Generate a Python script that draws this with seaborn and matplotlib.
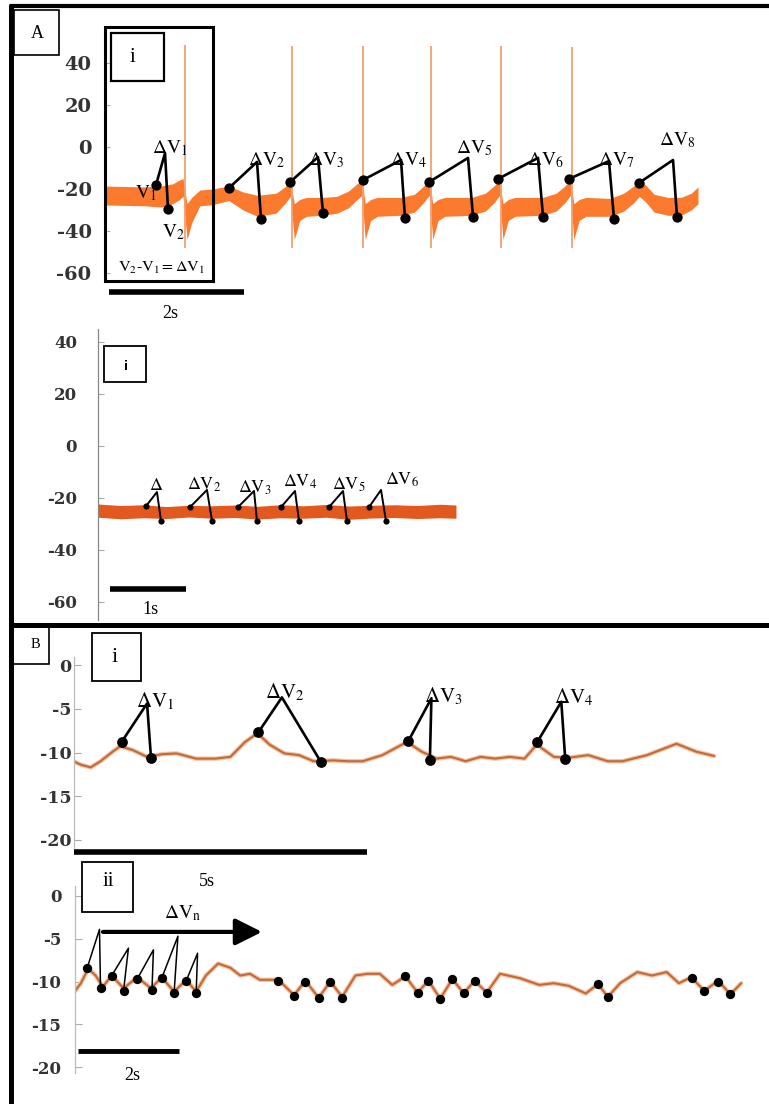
import matplotlib
matplotlib.use("Agg")
import matplotlib.pyplot as plt
import seaborn as sns
from matplotlib.patches import Rectangle
from matplotlib.lines import Line2D

# ------------------------------------------------------------------ data
# Panel A(i): noisy membrane-potential band (envelope), time in s, mV
a1_t  = [0.00, 0.30, 0.60, 0.85, 1.02, 1.12, 1.17,
         1.23, 1.30, 1.42, 1.60, 1.85, 2.06, 2.27, 2.55, 2.68, 2.76,
         2.82, 2.90, 3.00, 3.24, 3.45, 3.62, 3.75, 3.82,
         3.87, 3.95, 4.05, 4.40, 4.60, 4.72, 4.82,
         4.87, 4.95, 5.05, 5.45, 5.65, 5.78, 5.86,
         5.91, 5.99, 6.09, 6.50, 6.70, 6.83, 6.91,
         6.96, 7.04, 7.14, 7.50, 7.70, 7.85, 7.93, 8.02, 8.15, 8.35, 8.55, 8.70, 8.80]
a1_up = [-18.6, -18.8, -19.0, -18.6, -17.5, -15.7, -15.0,
         -27.0, -24.0, -20.5, -20.0, -18.6, -21.4, -23.0, -22.0, -19.0, -16.2,
         -27.0, -25.0, -24.0, -24.0, -23.5, -21.0, -17.5, -15.7,
         -27.0, -25.0, -24.0, -24.0, -22.5, -19.0, -16.0,
         -27.0, -25.0, -24.0, -24.0, -22.0, -18.5, -15.5,
         -27.0, -25.0, -24.0, -24.0, -22.0, -18.5, -15.5,
         -27.0, -25.0, -24.0, -24.5, -22.0, -18.5, -16.0, -18.0, -22.5, -24.0, -24.0, -22.0, -19.0]
a1_lo = [-27.6, -27.8, -28.0, -28.6, -27.0, -25.0, -23.5,
         -44.0, -36.0, -28.0, -27.5, -25.5, -30.0, -33.0, -31.5, -27.0, -23.5,
         -44.0, -35.0, -33.0, -32.5, -31.5, -29.0, -25.0, -23.0,
         -44.0, -35.0, -33.0, -32.5, -31.0, -27.0, -23.0,
         -44.0, -35.0, -33.0, -32.5, -30.5, -26.5, -23.0,
         -44.0, -35.0, -33.0, -32.5, -30.5, -26.5, -23.0,
         -44.0, -35.0, -33.0, -33.0, -30.5, -26.5, -23.5, -26.0, -31.0, -32.5, -32.5, -30.0, -27.0]
a1_spike_t  = [1.20, 2.79, 3.84, 4.84, 5.88, 6.93]
a1_spike_hi = [48.6, 48.0, 48.0, 48.0, 48.0, 47.5]
a1_spike_lo = [-48.0, -48.0, -48.0, -48.0, -48.0, -48.0]
a1_v1_t  = [0.770, 1.852, 2.756, 3.837, 4.815, 5.837, 6.889, 7.926]
a1_v1_v  = [-18.1, -19.5, -16.7, -15.7, -16.7, -15.2, -15.2, -17.1]
a1_ap_t  = [0.904, 2.267, 3.170, 4.400, 5.393, 6.430, 7.481, 8.430]
a1_ap_v  = [-2.9, -7.1, -4.8, -6.2, -5.2, -5.2, -6.7, -6.2]
a1_v2_t  = [0.948, 2.326, 3.244, 4.459, 5.467, 6.504, 7.556, 8.489]
a1_v2_v  = [-29.5, -34.3, -31.4, -33.8, -33.3, -33.3, -34.3, -33.3]
a1_yticks = [40, 20, 0, -20, -40, -60]

# Panel A (second): flat noisy band
a2_t  = [0.0, 0.3, 0.6, 0.9, 1.2, 1.5, 1.8, 2.1, 2.4, 2.7, 3.0, 3.3, 3.6, 3.9, 4.2, 4.5, 4.71]
a2_up = [-22.3, -22.9, -22.6, -23.3, -22.8, -23.0, -22.7, -23.2, -22.6, -23.0, -22.5, -23.1, -22.8, -22.6, -22.9, -22.4, -22.7]
a2_lo = [-27.4, -28.0, -27.6, -27.9, -27.3, -27.8, -27.5, -28.1, -27.6, -27.8, -27.4, -28.2, -27.7, -27.5, -27.9, -27.6, -27.8]
a2_v1_t = [0.632, 1.211, 1.842, 2.408, 3.039, 3.566]
a2_v1_v = [-23.1, -23.5, -23.5, -23.5, -23.5, -23.5]
a2_ap_t = [0.776, 1.434, 2.053, 2.592, 3.224, 3.724]
a2_ap_v = [-17.7, -16.9, -17.3, -17.3, -17.3, -16.9]
a2_v2_t = [0.829, 1.500, 2.092, 2.645, 3.276, 3.789]
a2_v2_v = [-28.8, -28.8, -28.8, -28.8, -28.8, -28.8]
a2_yticks = [40, 20, 0, -20, -40, -60]

# Panel B(i): smooth trace
b1_t = [0.000, 0.125, 0.292, 0.459, 0.667, 0.792, 1.001, 1.251, 1.501, 1.751, 2.085, 2.418,
        2.668, 2.918, 3.127, 3.335, 3.585, 3.835, 4.085, 4.419, 4.668, 4.918, 5.253, 5.670,
        5.920, 6.170, 6.420, 6.670, 6.920, 7.170, 7.420, 7.670, 7.879, 8.170, 8.420, 8.753,
        9.087, 9.337, 9.755, 10.255, 10.588, 10.896]
b1_v = [-11.0, -11.4, -11.7, -11.0, -9.9, -9.3, -9.7, -10.5, -10.2, -10.1, -10.7, -10.7,
        -10.5, -8.8, -7.8, -9.1, -10.1, -10.3, -11.0, -10.9, -11.0, -11.0, -10.3, -8.8,
        -9.9, -10.7, -10.5, -11.0, -10.5, -10.7, -10.5, -10.7, -9.1, -10.5, -10.6, -10.3,
        -11.0, -11.0, -10.3, -9.0, -9.9, -10.4]
b1_v1_t = [0.818, 3.143, 5.694, 7.888]
b1_v1_v = [-8.8, -7.7, -8.7, -8.8]
b1_ap_t = [1.251, 3.544, 6.087, 8.296]
b1_ap_v = [-4.4, -3.7, -3.8, -4.2]
b1_v2_t = [1.318, 4.209, 6.061, 8.362]
b1_v2_v = [-10.6, -11.1, -10.8, -10.7]
b_yticks = [0, -5, -10, -15, -20]

# Panel B(ii): smooth trace with many events
b2_t = [0.000, 0.126, 0.272, 0.417, 0.563, 0.738, 0.971, 1.243, 1.514, 1.728, 1.971, 2.213,
        2.408, 2.602, 2.844, 3.087, 3.281, 3.475, 3.669, 4.038, 4.349, 4.572, 4.834, 5.067,
        5.300, 5.562, 5.805, 6.047, 6.291, 6.553, 6.795, 7.008, 7.242, 7.485, 7.707, 7.921,
        8.164, 8.426, 8.814, 9.202, 9.493, 9.784, 10.125, 10.366, 10.561, 10.804, 11.145,
        11.436, 11.727, 11.968, 12.212, 12.473, 12.745, 12.988, 13.202]
b2_v = [-11.2, -10.2, -8.5, -9.3, -10.6, -9.3, -10.8, -9.5, -10.8, -9.5, -11.2, -9.8,
        -11.2, -9.3, -7.9, -8.4, -9.3, -9.1, -9.8, -9.8, -11.6, -9.9, -11.9, -10.0,
        -11.8, -9.3, -9.1, -9.1, -10.4, -9.4, -11.3, -9.9, -12.0, -9.7, -11.4, -9.9,
        -11.3, -9.1, -9.6, -10.4, -10.2, -10.5, -11.4, -10.3, -11.8, -10.2, -8.9,
        -9.3, -8.9, -10.2, -9.5, -11.1, -9.9, -11.5, -10.2]
b2_v1_t = [0.252, 0.738, 1.243, 1.728, 2.213]
b2_v1_v = [-8.4, -9.3, -9.7, -9.6, -9.9]
b2_ap_t = [0.495, 1.068, 1.563, 2.048, 2.437]
b2_ap_v = [-3.9, -6.1, -6.3, -4.7, -6.7]
b2_v2_t = [0.515, 0.971, 1.534, 1.971, 2.408]
b2_v2_v = [-10.8, -11.1, -11.0, -11.4, -11.4]
b2_dot_t = [4.038, 4.349, 4.572, 4.834, 5.067, 5.300, 6.553, 6.795, 7.008, 7.242, 7.485,
            7.707, 7.921, 8.164, 10.366, 10.561, 12.231, 12.473, 12.745, 12.988]
b2_dot_v = [-9.9, -11.7, -10.0, -11.9, -10.1, -11.9, -9.4, -11.3, -9.9, -12.0, -9.7,
            -11.4, -9.9, -11.3, -10.3, -11.8, -9.6, -11.1, -10.0, -11.5]
b2_arrow_t = [0.564, 3.713]
b2_arrow_v = -4.2

# ------------------------------------------------------------------ style
sns.set_theme(style="white")
plt.rcParams["font.family"] = ["Liberation Serif", "DejaVu Serif"]
plt.rcParams["mathtext.fontset"] = "stix"

W, H = 769, 1104
fig = plt.figure(figsize=(W / 100, H / 100), dpi=100)
fig.patch.set_facecolor("white")


def add_ax(l, t, r, b):
    return fig.add_axes([l / W, 1 - b / H, (r - l) / W, (b - t) / H])


def ftext(x, y, s, **kw):
    kw.setdefault("color", "black")
    fig.text(x / W, 1 - y / H, s, **kw)


def frect(l, t, r, b, lw):
    fig.add_artist(Rectangle((l / W, 1 - b / H), (r - l) / W, (b - t) / H,
                             transform=fig.transFigure, fill=False, lw=lw,
                             ec="black", zorder=30))


def fline(xs, ys, lw):
    fig.add_artist(Line2D([x / W for x in xs], [1 - y / H for y in ys],
                          transform=fig.transFigure, color="black", lw=lw,
                          solid_capstyle="butt", zorder=30))


def style_ax(ax, xlim, ylim, yticks, fs, pad, spine=None, tlen=4):
    ax.set_xlim(*xlim)
    ax.set_ylim(*ylim)
    ax.set_facecolor("none")
    for s in ax.spines.values():
        s.set_visible(False)
    if spine:
        ax.spines["left"].set_visible(True)
        ax.spines["left"].set_color(spine)
        ax.spines["left"].set_linewidth(0.9)
    ax.set_xticks([])
    ax.set_yticks(yticks)
    ax.set_yticklabels([str(v) for v in yticks], fontsize=fs, fontweight="bold",
                       color="#333333", family="DejaVu Serif")
    ax.tick_params(axis="y", direction="in", length=tlen, width=0.8,
                   color="#aaaaaa", pad=pad, left=True)
    ax.set_xlabel("")
    ax.set_ylabel("")


def draw_events(ax, v1t, v1v, apt, apv, v2t, v2v, lw, s):
    for i in range(len(v1t)):
        ax.plot([v1t[i], apt[i], v2t[i]], [v1v[i], apv[i], v2v[i]],
                color="black", lw=lw, zorder=4, clip_on=False)
    sns.scatterplot(x=list(v1t) + list(v2t), y=list(v1v) + list(v2v), ax=ax,
                    color="black", s=s, linewidth=0, zorder=5, legend=False,
                    clip_on=False)


# ---------------- Panel A(i)
ax1 = add_ax(104, 30, 704, 285)
ax1.fill_between(a1_t, a1_lo, a1_up, color="#fb7a2e", lw=0, zorder=1)
ax1.vlines(a1_spike_t, a1_spike_lo, a1_spike_hi, color="#f2a073", lw=1.3, zorder=2)
draw_events(ax1, a1_v1_t, a1_v1_v, a1_ap_t, a1_ap_v, a1_v2_t, a1_v2_v, 1.9, 55)
style_ax(ax1, (0, 600 / 67.5), ((147 - 285) / 2.1, (147 - 30) / 2.1), a1_yticks, 14, 9)
ax1.plot([0.074, 2.074], [-69, -69], color="black", lw=4, clip_on=False,
         solid_capstyle="butt")

# ---------------- Panel A (second)
ax2 = add_ax(98, 329, 700, 620)
ax2.fill_between(a2_t, a2_lo, a2_up, color="#e2581e", lw=0, zorder=1)
draw_events(ax2, a2_v1_t, a2_v1_v, a2_ap_t, a2_ap_v, a2_v2_t, a2_v2_v, 1.4, 20)
style_ax(ax2, (0, 602 / 76), ((446 - 620) / 2.6, (446 - 329) / 2.6), a2_yticks, 12, 15,
         spine="#888888")
ax2.plot([0.158, 1.158], [-55, -55], color="black", lw=4, clip_on=False,
         solid_capstyle="butt")

# ---------------- Panel B(i)
ax3 = add_ax(73.5, 657, 720, 848)
sns.lineplot(x=b1_t, y=b1_v, ax=ax3, color="#f1c3a3", lw=3.2, zorder=1)
sns.lineplot(x=b1_t, y=b1_v, ax=ax3, color="#c4693a", lw=1.5, zorder=2)
draw_events(ax3, b1_v1_t, b1_v1_v, b1_ap_t, b1_ap_v, b1_v2_t, b1_v2_v, 1.9, 60)
style_ax(ax3, (0, 646.5 / 58.8), ((665 - 848) / 8.75, (665 - 657) / 8.75), b_yticks, 12.5,
         1.5, spine="#bbbbbb", tlen=5)
ax3.plot([0, 5], [-21.4, -21.4], color="black", lw=4, clip_on=False,
         solid_capstyle="butt")

# ---------------- Panel B(ii)
ax4 = add_ax(74.5, 886, 769, 1073)
sns.lineplot(x=b2_t, y=b2_v, ax=ax4, color="#f1c3a3", lw=3.2, zorder=1)
sns.lineplot(x=b2_t, y=b2_v, ax=ax4, color="#c4693a", lw=1.5, zorder=2)
draw_events(ax4, b2_v1_t, b2_v1_v, b2_ap_t, b2_ap_v, b2_v2_t, b2_v2_v, 1.1, 45)
sns.scatterplot(x=b2_dot_t, y=b2_dot_v, ax=ax4, color="black", s=45, linewidth=0,
                zorder=5, legend=False)
style_ax(ax4, (0, 694.5 / 50.5), ((896 - 1073) / 8.55, (896 - 886) / 8.55), b_yticks, 12,
         9.5, spine="#bbbbbb", tlen=5)
ax4.plot([0.07, 2.07], [-18.1, -18.1], color="black", lw=3.5, clip_on=False,
         solid_capstyle="butt")
ax4.annotate("", xy=(b2_arrow_t[1], b2_arrow_v), xytext=(b2_arrow_t[0], b2_arrow_v),
             arrowprops=dict(arrowstyle="-|>,head_length=0.9,head_width=0.45",
                             lw=3, color="black", mutation_scale=18,
                             shrinkA=0, shrinkB=0))

# ---------------- frames and boxes (figure pixels)
fline([10, 769], [6, 6], 3.0)
fline([10.5, 10.5], [4, 1104], 3.6)
fline([10, 769], [624.5, 624.5], 3.6)
frect(14, 10, 59, 55, 1.2)
frect(10.5, 626, 49, 664, 1.2)
frect(105, 27.5, 212.5, 281.5, 2.2)
frect(110.5, 33, 163.5, 81, 1.6)
frect(104, 346, 146, 382, 1.3)
frect(92, 633, 141, 681, 1.3)
frect(82, 862, 133, 912, 1.3)

# ---------------- text
ftext(37, 33, "A", fontsize=13, ha="center", va="center")
ftext(35, 644, "B", fontsize=10.5, ha="center", va="center")
ftext(132, 57, "i", fontsize=15, ha="center", va="center")
ftext(126, 366, "i", fontsize=8.5, ha="center", va="center", family="DejaVu Sans",
      fontweight="bold")
ftext(115, 657, "i", fontsize=16, ha="center", va="center")
ftext(108, 881, "ii", fontsize=15, ha="center", va="center")

a1_lab = [(152, 153), (248, 165), (308, 165), (390, 165), (456, 153), (527, 165),
          (598, 165), (659, 145)]
for i, (x, y) in enumerate(a1_lab):
    ftext(x, y, r"$\Delta\mathrm{V}_{%d}$" % (i + 1), fontsize=14, va="baseline")
ftext(135, 198, r"$\mathrm{V}_{1}$", fontsize=14, va="baseline")
ftext(162, 237, r"$\mathrm{V}_{2}$", fontsize=14, va="baseline")
ftext(118, 272, r"$\mathrm{V}_{2}\text{-}\mathrm{V}_{1}\mathrm{=\Delta V}_{1}$",
      fontsize=11.5, va="baseline")
ftext(170, 313, "2s", fontsize=13, ha="center", va="center")

a2_lab = [(187, 490), (238, 493), (283, 487), (332, 490), (385, 485)]
ftext(149, 490, r"$\Delta$", fontsize=13, va="baseline")
for i, (x, y) in enumerate(a2_lab):
    ftext(x, y, r"$\Delta\mathrm{V}_{%d}$" % (i + 2), fontsize=13, va="baseline")
ftext(150, 609, "1s", fontsize=13, ha="center", va="center")

b1_lab = [(136, 707), (265, 698), (424, 702), (554, 703)]
for i, (x, y) in enumerate(b1_lab):
    ftext(x, y, r"$\Delta\mathrm{V}_{%d}$" % (i + 1), fontsize=15, va="baseline")
ftext(207, 882, "5s", fontsize=13, ha="center", va="center")

ftext(164, 918, r"$\Delta\mathrm{V}_{\mathrm{n}}$", fontsize=14, va="baseline")
ftext(132, 1075, "2s", fontsize=13, ha="center", va="center")

fig.savefig("out.png", dpi=100, facecolor="white")
